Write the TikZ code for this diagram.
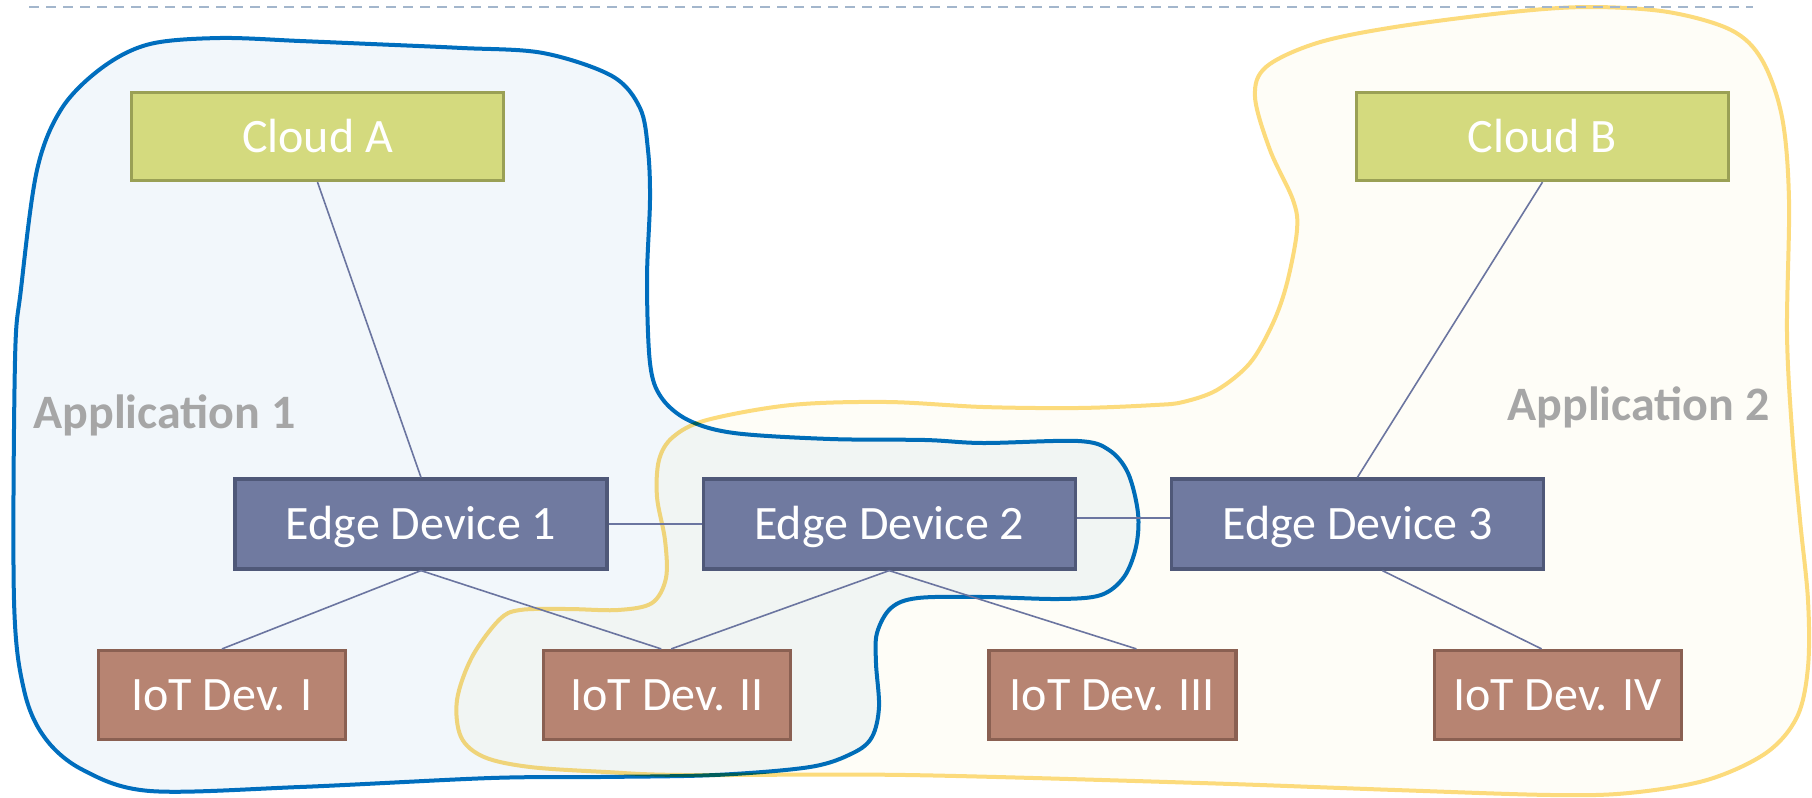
\documentclass[tikz,border=0pt]{standalone}
\usepackage{fontspec}
\setmainfont{Carlito}
\usepackage{tikz}
\usetikzlibrary{positioning}
\definecolor{cloudfill}{HTML}{D4DA7E}
\definecolor{clouddraw}{HTML}{9AA055}
\definecolor{edgefill}{HTML}{707AA0}
\definecolor{edgedraw}{HTML}{4F5878}
\definecolor{iotfill}{HTML}{B78472}
\definecolor{iotdraw}{HTML}{8A6052}
\definecolor{linkcol}{HTML}{6B75A0}
\definecolor{appone}{HTML}{0070C0}
\definecolor{apponefill}{HTML}{F2F7FB}
\definecolor{apptwo}{HTML}{FCDB7C}
\definecolor{apptwofill}{HTML}{FEFDF7}
\definecolor{lblgray}{HTML}{A6A6A6}
\definecolor{rulecol}{HTML}{A3B6CC}
\tikzset{
  boxbase/.style={rectangle, line width=1.6pt, text=white, inner sep=0pt,
              text height=15.5pt, text depth=0pt},
  cloudbox/.style={boxbase, draw=clouddraw, fill=cloudfill, minimum width=186pt, minimum height=44pt},
  edgebox/.style={boxbase, draw=edgedraw, fill=edgefill, minimum width=186pt, minimum height=45pt},
  iotbox/.style={boxbase, draw=iotdraw, fill=iotfill, minimum width=123.5pt, minimum height=44.5pt},
  link/.style={draw=linkcol, line width=0.8pt},
  applbl/.style={font=\fontsize{24}{28}\selectfont\bfseries, text=lblgray, inner sep=0pt},
  blobone/.style={draw=appone, line width=2pt, fill=apponefill},
  blobtwo/.style={draw=apptwo, line width=2pt, fill=apptwofill},
}

\begin{document}
\begin{tikzpicture}[x=0.5pt, y=-0.5pt, node distance=46.5pt,
    every node/.style={font=\fontsize{24}{28}\selectfont}]
      \useasboundingbox (0,0) rectangle (1812,798);
      % application areas
      \draw[blobtwo] plot[smooth cycle, tension=0.55] coordinates {
        (1255,97) (1266,67) (1317,43) (1395,27) (1512,12) (1590,7) (1668,12)
        (1731,30) (1762,60) (1782,117) (1789,200) (1787,333) (1792,430)
        (1800,520) (1808,600) (1808,667) (1797,717) (1766,753) (1707,780)
        (1629,793) (1551,795) (1395,790) (1200,783) (906,775) (683,775)
        (606,772) (530,767) (484,757) (461,737) (457,700) (472,657) (499,620)
        (520,610) (568,609) (618,610) (652,603) (666,578) (665,540) (657,497)
        (659,460) (673,437) (707,420) (791,405) (887,402) (983,407) (1078,408)
        (1155,405) (1183,402) (1217,390) (1250,363) (1273,323) (1287,283)
        (1297,230) (1293,200) (1270,150)};
      \begin{scope}[blend mode=multiply]
      \draw[blobone] plot[smooth cycle, tension=0.55] coordinates {
        (21,289) (37,170) (62,108) (103,67) (150,44) (220,38) (300,41)
        (371,44) (462,48) (543,53) (612,76) (640,108) (648,150) (650,200)
        (647,280) (650,363) (661,397) (688,420) (734,433) (830,439) (925,440)
        (983,443) (1078,441) (1109,450) (1128,473) (1138,513) (1136,547)
        (1124,577) (1101,595) (1059,599) (983,597) (918,598) (891,608)
        (877,633) (876,663) (879,707) (872,737) (853,753) (810,767) (715,775)
        (600,777) (491,778) (300,787) (150,791) (83,770) (45,738) (24,690)
        (14,600) (15,361)};
      \end{scope}
      \draw[rulecol, line width=1pt, dash pattern=on 5pt off 3.5pt] (29,7) -- (1753,7);
      \node[applbl, anchor=base west] (app1) at (33,428) {Application 1};
      \node[applbl, anchor=base east] (app2) at (1770,420) {Application 2};
      % devices
      \node[cloudbox] (cloudA) at (317.5,136.5) {Cloud A};
      \node[cloudbox] (cloudB) at (1542.5,136.5) {Cloud B};
      \node[edgebox] (edge1) at (421,524) {Edge Device 1};
      \node[edgebox, right=of edge1] (edge2) {Edge Device 2};
      \node[edgebox, right=of edge2] (edge3) {Edge Device 3};
      \node[iotbox] (iot1) at (222,695) {IoT Dev. I};
      \node[iotbox, right=97.5pt of iot1] (iot2) {IoT Dev. II};
      \node[iotbox, right=97.5pt of iot2] (iot3) {IoT Dev. III};
      \node[iotbox, right=97.5pt of iot3] (iot4) {IoT Dev. IV};
      \draw[link] (cloudA.south) -- (edge1.north);
      \draw[link] (cloudB.south) -- (edge3.north);
      \draw[link] (edge1.east) -- (edge2.west);
      \draw[link] ([yshift=3pt]edge2.east) -- ([yshift=3pt]edge3.west);
      \draw[link] (edge1.south) -- (iot1.north);
      \draw[link] (edge1.south) -- ([xshift=-3pt]iot2.north);
      \draw[link] (edge2.south) -- ([xshift=2pt]iot2.north);
      \draw[link] (edge2.south) -- ([xshift=12pt]iot3.north);
      \draw[link] ([xshift=12.5pt]edge3.south) -- ([xshift=-8pt]iot4.north);
    \end{tikzpicture}
\end{document}
